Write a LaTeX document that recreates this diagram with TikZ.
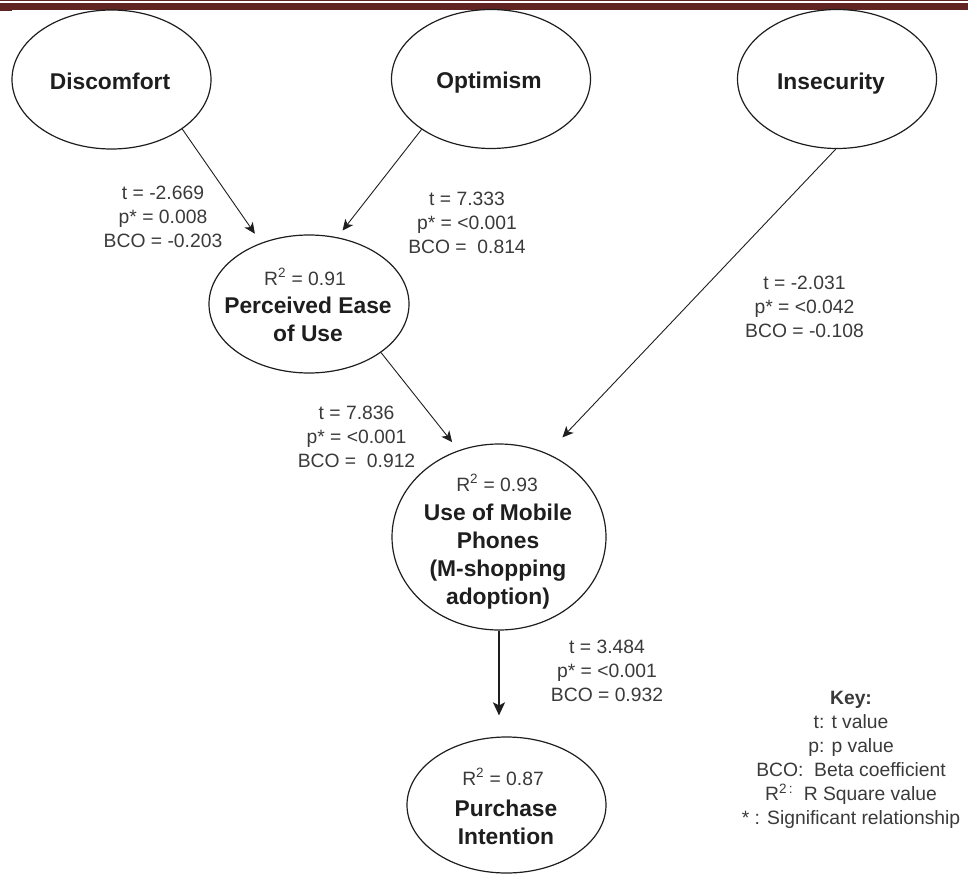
\documentclass[tikz,border=0pt]{standalone}
\usepackage{fontspec}
\setmainfont{Liberation Sans}
\usetikzlibrary{shapes.geometric,arrows.meta}
\definecolor{band}{HTML}{622423}
\definecolor{txt}{HTML}{3A3A3A}
\definecolor{ink}{HTML}{1E1E1E}
\begin{document}
\begin{tikzpicture}[x=1pt,y=-1pt,
  oval/.style={ellipse, draw=ink, line width=1.2pt, inner sep=0pt, minimum width=199pt, minimum height=139pt},
  lbl/.style={align=center, text=txt, font=\fontsize{19.3}{24}\selectfont, inner sep=0pt},
  ttl/.style={align=center, text=ink, font=\fontsize{22.8}{28}\selectfont\bfseries, inner sep=0pt},
  conn/.style={draw=ink, line width=0.9pt, -{Stealth[length=11pt,width=10pt,inset=3pt]}},
  bigconn/.style={draw=ink, line width=1.8pt, -{Stealth[length=13pt,width=12pt,inset=3pt]}}
]
\useasboundingbox (0,0) rectangle (968,874);
% top band
\fill[band] (0,0) rectangle (968,1.2);
\fill[band] (0,3) rectangle (968,10);
\fill[band] (0,10) rectangle (12,11.2);

% ellipses
\node[oval] (disc) at (111.5,79.5) {};
\node[oval] (opt) at (491,79) {};
\node[oval] (insec) at (837,79) {};
\node[oval, minimum width=200pt, minimum height=138pt] (pe) at (309,304) {};
\node[oval, minimum width=214pt, minimum height=186pt] (use) at (499,537) {};
\node[oval, minimum width=199pt, minimum height=136pt] (pi) at (506.5,805) {};

% texts inside ellipses
\node[ttl] (tdisc) at (110,81) {Discomfort};
\node[ttl] (topt) at (489,83) {Optimism};
\node[ttl] (tinsec) at (831,84) {Insecurity};
\node[lbl] (rpe) at (305,277) {R\textsuperscript{2} = 0.91};
\node[ttl] (tpe) at (308,319.5) {Perceived Ease\\of Use};
\node[lbl] (ruse) at (497,483) {R\textsuperscript{2} = 0.93};
\node[ttl] (tuse) at (498,557) {Use of Mobile\\Phones\\(M-shopping\\adoption)};
\node[lbl] (rpi) at (503,777) {R\textsuperscript{2} = 0.87};
\node[ttl] (tpi) at (506,822.5) {Purchase\\Intention};

% connectors
\draw[conn, shorten >=11pt] (disc.-35.6) -- (pe.128.6);
\draw[conn, shorten >=8.4pt] (opt.-144.3) -- (pe.67.3);
\draw[conn, shorten >=22pt] (insec.-91.6) -- (use.60);
\draw[conn, shorten >=10.3pt] (pe.-34.8) -- (use.115.8);
\draw[bigconn, shorten >=21pt] (use.south) -- (use.south |- pi.north);

% path labels
\node[lbl] (l1) at (163,217) {t = -2.669\\p* = 0.008\\BCO = -0.203};
\node[lbl] (l2) at (467,222.5) {t = 7.333\\p* = <0.001\\BCO = \ 0.814};
\node[lbl] (l3) at (804.5,307) {t = -2.031\\p* = <0.042\\BCO = -0.108};
\node[lbl] (l4) at (356.5,437) {t = 7.836\\p* = <0.001\\BCO = \ 0.912};
\node[lbl] (l5) at (607,671) {t = 3.484\\p* = <0.001\\BCO = 0.932};

% key
\node[lbl] (key) at (851,760) {\textbf{Key:}\\t: t value\\p: p value\\BCO: \ Beta coefficient\\R\textsuperscript{2\,:}\ \ R Square value\\* : Significant relationship};
\end{tikzpicture}
\end{document}
